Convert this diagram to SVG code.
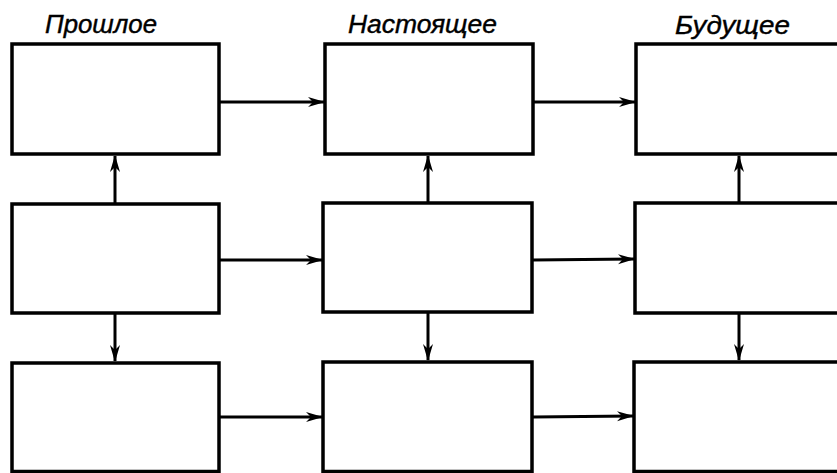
<svg xmlns="http://www.w3.org/2000/svg" width="837" height="473" viewBox="0 0 837 473">
<style>
.box{fill:#fff;stroke:#000;stroke-width:3.5}
.lbl{font-family:"Liberation Sans",Arial,sans-serif;font-style:italic;font-size:25px;fill:#000;stroke:#000;stroke-width:0.4}
.con{stroke:#000;stroke-width:3;fill:none}
</style>
<defs>
<marker id="ah" viewBox="0 0 17 11" refX="16" refY="5.5" markerWidth="17" markerHeight="11" markerUnits="userSpaceOnUse" orient="auto">
<path d="M0,0.5 L17,5.5 L0,10.5 L5,5.5 Z" fill="#000"/>
</marker>
</defs>
<rect width="837" height="473" fill="#fff"/>
<text class="lbl" x="45" y="33" textLength="112" lengthAdjust="spacingAndGlyphs">Прошлое</text>
<text class="lbl" x="348" y="33" textLength="149" lengthAdjust="spacingAndGlyphs">Настоящее</text>
<text class="lbl" x="675" y="34" textLength="115" lengthAdjust="spacingAndGlyphs">Будущее</text>
<g id="connectors">
<line class="con" x1="220" y1="102" x2="324" y2="102" marker-end="url(#ah)"/>
<line class="con" x1="534" y1="102" x2="635" y2="102" marker-end="url(#ah)"/>
<line class="con" x1="220" y1="260" x2="322" y2="260" marker-end="url(#ah)"/>
<line class="con" x1="533" y1="260" x2="634" y2="259" marker-end="url(#ah)"/>
<line class="con" x1="220" y1="417" x2="322" y2="417" marker-end="url(#ah)"/>
<line class="con" x1="533" y1="417" x2="633" y2="416" marker-end="url(#ah)"/>
<line class="con" x1="115" y1="203" x2="115" y2="156" marker-end="url(#ah)"/>
<line class="con" x1="115" y1="314" x2="115" y2="361" marker-end="url(#ah)"/>
<line class="con" x1="428" y1="202" x2="428" y2="156" marker-end="url(#ah)"/>
<line class="con" x1="428" y1="313" x2="428" y2="360" marker-end="url(#ah)"/>
<line class="con" x1="739" y1="202" x2="739" y2="156" marker-end="url(#ah)"/>
<line class="con" x1="739" y1="314" x2="739" y2="360" marker-end="url(#ah)"/>
</g>
<g id="n11"><rect class="box" x="12" y="44" width="207" height="110"/></g>
<g id="n12"><rect class="box" x="325" y="44" width="208" height="110"/></g>
<g id="n13"><rect class="box" x="636" y="44" width="210" height="110"/></g>
<g id="n21"><rect class="box" x="12" y="204" width="207" height="109"/></g>
<g id="n22"><rect class="box" x="323" y="203" width="209" height="109"/></g>
<g id="n23"><rect class="box" x="635" y="203" width="211" height="110"/></g>
<g id="n31"><rect class="box" x="12" y="363" width="207" height="108.5"/></g>
<g id="n32"><rect class="box" x="323" y="362" width="209" height="109.5"/></g>
<g id="n33"><rect class="box" x="634" y="362" width="212" height="109.5"/></g>
</svg>
